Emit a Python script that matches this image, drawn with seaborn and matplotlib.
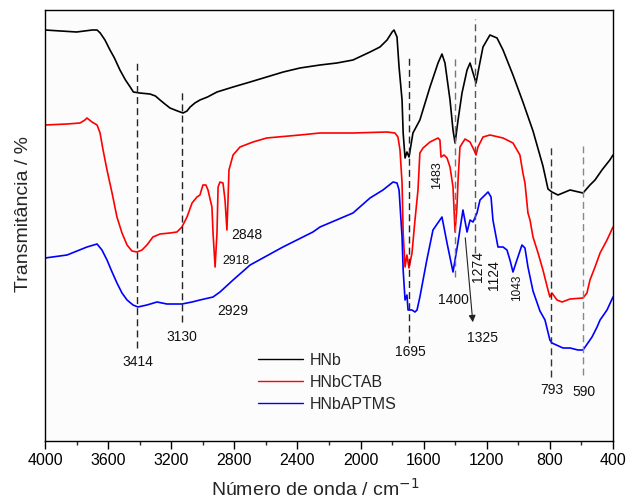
import matplotlib
matplotlib.use("Agg")
import matplotlib.pyplot as plt
import seaborn as sns
import pandas as pd
import numpy as np

# ---- data (wavenumber cm-1, transmittance in arbitrary units) ----
hnb_wn = [4000, 3900, 3800, 3700, 3670, 3650, 3620, 3588, 3560, 3525, 3490, 3460, 3440, 3400,
          3335, 3300, 3271, 3240, 3208, 3160, 3125, 3100, 3080, 3050, 3018, 2970, 2910, 2808,
          2700, 2595, 2490, 2384, 2257, 2150, 2048, 1940, 1877, 1832, 1800, 1788, 1769, 1756,
          1737, 1730, 1718, 1706, 1693, 1668, 1624, 1560, 1509, 1484, 1465, 1433, 1414, 1401,
          1382, 1357, 1325, 1306, 1287, 1268, 1249, 1224, 1180, 1135, 1097, 1034, 971, 907,
          844, 812, 787, 749, 672, 590, 546, 514, 470, 420, 400]
hnb_t = [411, 410, 409, 411, 411, 408, 401, 391, 383, 371, 361, 354, 349, 348,
         347, 345, 341, 337, 333, 330, 328, 330, 334, 338, 341, 344, 349, 354,
         359, 364, 369, 373, 376, 378, 381, 389, 394, 401, 409, 411, 404, 374,
         341, 308, 283, 289, 284, 308, 321, 354, 378, 387, 378, 341, 311, 298,
         321, 348, 371, 378, 368, 358, 374, 394, 406, 403, 391, 366, 339, 310,
         275, 252, 249, 246, 251, 248, 256, 261, 271, 281, 286]

ctab_wn = [4000, 3860, 3778, 3747, 3734, 3702, 3670, 3651, 3632, 3607, 3575, 3544, 3512, 3480,
           3449, 3417, 3385, 3354, 3316, 3271, 3208, 3164, 3132, 3100, 3068, 3037, 3018, 2999,
           2980, 2967, 2942, 2935, 2922, 2910, 2903, 2891, 2872, 2859, 2847, 2840, 2834, 2808,
           2764, 2682, 2595, 2384, 2257, 2048, 1832, 1782, 1763, 1750, 1737, 1730, 1718, 1706,
           1693, 1674, 1655, 1636, 1624, 1604, 1560, 1509, 1497, 1490, 1471, 1452, 1433, 1414,
           1401, 1389, 1382, 1370, 1338, 1306, 1281, 1268, 1256, 1224, 1180, 1097, 1034, 990,
           971, 958, 939, 926, 907, 875, 844, 812, 800, 787, 755, 723, 672, 590, 565, 546,
           514, 482, 438, 400]
ctab_t = [316, 317, 318, 321, 323, 319, 316, 308, 291, 271, 248, 224, 208, 196,
          190, 189, 191, 196, 204, 207, 208, 209, 214, 224, 238, 244, 246, 256,
          256, 251, 234, 208, 174, 208, 254, 259, 258, 241, 211, 241, 271, 286,
          294, 299, 303, 306, 308, 308, 309, 308, 304, 291, 258, 208, 174, 186,
          173, 188, 221, 251, 288, 293, 299, 303, 301, 284, 286, 283, 274, 254,
          209, 234, 261, 294, 302, 299, 291, 286, 294, 304, 306, 303, 298, 286,
          268, 258, 228, 221, 204, 188, 171, 151, 144, 148, 141, 139, 142, 143, 148, 161,
          174, 188, 201, 214]

aptms_wn = [4000, 3860, 3734, 3670, 3639, 3607, 3575, 3544, 3512, 3480, 3442, 3411, 3354, 3290,
            3227, 3132, 3068, 3018, 2935, 2891, 2808, 2700, 2492, 2302, 2257, 2048, 1940, 1858,
            1794, 1769, 1756, 1737, 1730, 1718, 1706, 1699, 1674, 1655, 1642, 1624, 1580, 1541,
            1484, 1452, 1414, 1383, 1351, 1325, 1306, 1287, 1262, 1243, 1224, 1192, 1173, 1161,
            1129, 1097, 1072, 1053, 1034, 1009, 977, 958, 939, 907, 863, 831, 800, 787, 717,
            672, 622, 590, 533, 501, 482, 438, 400]
aptms_t = [183, 186, 194, 197, 191, 181, 169, 158, 148, 141, 136, 134, 136, 139,
           137, 137, 139, 141, 144, 149, 161, 176, 194, 209, 214, 228, 243, 251,
           259, 258, 251, 204, 171, 141, 146, 131, 131, 129, 131, 144, 181, 211,
           224, 198, 169, 198, 231, 209, 221, 219, 228, 241, 244, 249, 244, 221,
           194, 194, 191, 181, 169, 181, 196, 193, 174, 150, 130, 121, 101, 98, 93,
           93, 91, 91, 104, 114, 121, 131, 144]

series_names = ["HNb", "HNbCTAB", "HNbAPTMS"]
series_colors = ["black", "red", "blue"]

# marker lines: wavenumber, y-range, colour
vline_wn = [3414, 3130, 1695, 1400, 1274, 793, 590]
vline_lo = [93, 119, 98, 164, 188, 64, 66]
vline_hi = [379, 350, 384, 385, 422, 295, 295]
vline_col = ["#222222", "#222222", "#222222", "#777777", "#555555", "#333333", "#888888"]

# peak labels: text, x, y, rotation, size
lab_text = ["3414", "3130", "2929", "2918", "2848", "1483", "1695", "1400", "1325",
            "1274", "1124", "1043", "793", "590"]
lab_x = [3414, 3130, 2809, 2790, 2720, 1516, 1687, 1414, 1230, 1256, 1154, 1008, 787, 584]
lab_y = [79, 104, 130, 180, 206, 266, 89, 141, 103, 174, 166, 153, 51, 49]
lab_rot = [0, 0, 0, 0, 0, 90, 0, 0, 0, 90, 90, 90, 0, 0]
lab_size = [10, 10, 10, 8.8, 10, 9, 10, 10, 10, 10, 10, 8.5, 10, 10]

xticks = [4000, 3600, 3200, 2800, 2400, 2000, 1600, 1200, 800, 400]

# ---- build long table ----
frames = []
for name, wn, t in zip(series_names, [hnb_wn, ctab_wn, aptms_wn], [hnb_t, ctab_t, aptms_t]):
    frames.append(pd.DataFrame({"wn": wn, "T": t, "amostra": name}))
df = pd.concat(frames, ignore_index=True)

sns.set_theme(style="ticks")
plt.rcParams["font.family"] = ["Liberation Sans", "DejaVu Sans"]

fig = plt.figure(figsize=(6.38, 5.03), dpi=100, facecolor="white")
ax = fig.add_axes([45 / 638, 62 / 503, 568 / 638, 431 / 503])
ax.set_facecolor("#fcfcfc")

sns.lineplot(data=df, x="wn", y="T", hue="amostra", hue_order=series_names,
             palette=series_colors, estimator=None, sort=True, linewidth=1.2, ax=ax)

for x, lo, hi, c in zip(vline_wn, vline_lo, vline_hi, vline_col):
    ax.vlines(x, lo, hi, colors=c, linestyles=(0, (5, 3)), linewidth=1.0)

for s, x, y, r, fs in zip(lab_text, lab_x, lab_y, lab_rot, lab_size):
    ax.text(x, y, s, rotation=r, fontsize=fs, ha="center", va="center", color="#111111")

ax.annotate("", xy=(1287, 116), xytext=(1338, 206),
            arrowprops=dict(arrowstyle="-|>", color="#222222", lw=0.8, mutation_scale=10))

ax.set_xlim(4000, 400)
ax.set_ylim(0, 431)
ax.set_xticks(xticks)
ax.set_xticks(np.arange(400, 4001, 200), minor=True)
ax.set_yticks([])
ax.tick_params(axis="x", which="major", direction="out", length=5.5, width=1.0,
               labelsize=11.5, pad=3, colors="black")
ax.tick_params(axis="x", which="minor", direction="out", length=3, width=1.0)
for sp in ax.spines.values():
    sp.set_visible(True)
    sp.set_color("black")
    sp.set_linewidth(1.0)

ax.set_xlabel("Número de onda / cm$^{-1}$", fontsize=14)
ax.set_ylabel("Transmitância / %", fontsize=14)
ax.xaxis.set_label_coords(0.475, -0.085)
ax.yaxis.set_label_coords(-0.023, 0.527)

leg = ax.legend(loc="upper left", bbox_to_anchor=(0.375, 0.205), frameon=False,
                fontsize=11.5, handlelength=2.8, handletextpad=0.45, labelspacing=0.45,
                borderpad=0, borderaxespad=0, title=None)
for line in leg.get_lines():
    line.set_linewidth(1.0)

fig.savefig("out.png", dpi=100, facecolor="white")
